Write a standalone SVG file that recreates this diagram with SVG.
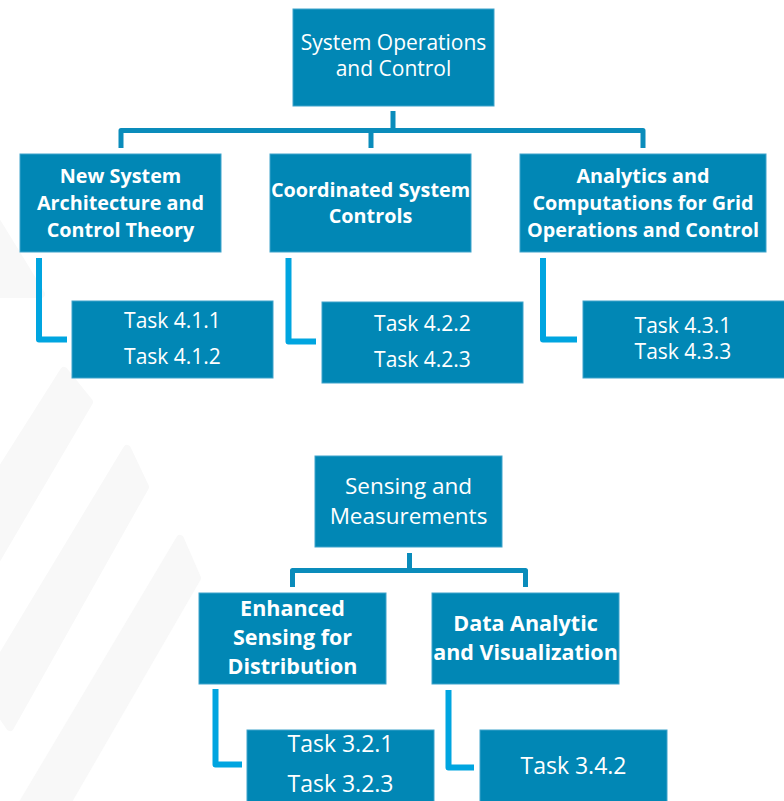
<svg xmlns="http://www.w3.org/2000/svg" width="784" height="801" viewBox="0 0 784 801">
<style>
.bg{fill:#f8f8f8;stroke:#f8f8f8;stroke-width:8;stroke-linejoin:round}
.box{fill:#0187b5;stroke:#3fa3cb;stroke-width:1}
.t{font-family:"Open Sans","Noto Sans",sans-serif;fill:#ffffff;text-anchor:middle}
.r21{font-size:21px}
.r23{font-size:23px}
.r22{font-size:22.5px}
.b20{font-size:19.8px;font-weight:700}
.b21{font-size:21.5px;font-weight:700}
.main{fill:none;stroke:#0a8cbb;stroke-width:5;stroke-linejoin:round}
.sub{fill:none;stroke:#00a5e0;stroke-width:6;stroke-linejoin:round}
</style>
<rect width="784" height="801" fill="#ffffff"/>
<g id="background">
<polygon class="bg" points="-5,219 41,294 -5,294"/>
<polygon class="bg" points="64,371 89,402 -5,562 -5,480"/>
<polygon class="bg" points="127,449 145,487 10,727 -5,705 -5,668"/>
<polygon class="bg" points="180,539 197,578 64,808 20,808"/>
</g>
<g id="connectors">
<path class="main" d="M121,148 V130.5 H643 V148"/>
<path class="main" d="M393,111 V130.5"/>
<path class="main" d="M371,130.5 V148"/>
<path class="main" d="M292.5,587 V570.5 H525.5 V587"/>
<path class="main" d="M409.5,553 V570.5"/>
<path class="sub" d="M39,258 V339.5 H67"/>
<path class="sub" d="M288.5,258 V341.5 H316"/>
<path class="sub" d="M543,258 V339.5 H577"/>
<path class="sub" d="M215.5,689 V764.5 H242"/>
<path class="sub" d="M448.5,690 V767.5 H474"/>
</g>
<g id="root1">
<rect class="box" x="293" y="9" width="201" height="97"/>
<text class="t r21" x="393.5" y="50">System Operations</text>
<text class="t r21" x="393.5" y="76">and Control</text>
</g>
<g id="c1">
<rect class="box" x="20" y="154" width="201" height="98"/>
<text class="t b20" x="120.5" y="183">New System</text>
<text class="t b20" x="120.5" y="210">Architecture and</text>
<text class="t b20" x="120.5" y="237">Control Theory</text>
</g>
<g id="c2">
<rect class="box" x="270" y="154" width="201" height="98"/>
<text class="t b20" x="370.5" y="197">Coordinated System</text>
<text class="t b20" x="370.5" y="223">Controls</text>
</g>
<g id="c3">
<rect class="box" x="520" y="154" width="246" height="98"/>
<text class="t b20" x="643" y="183">Analytics and</text>
<text class="t b20" x="643" y="210">Computations for Grid</text>
<text class="t b20" x="643" y="237">Operations and Control</text>
</g>
<g id="t1">
<rect class="box" x="72" y="301" width="201" height="77"/>
<text class="t r21" x="172.5" y="328">Task 4.1.1</text>
<text class="t r21" x="172.5" y="364">Task 4.1.2</text>
</g>
<g id="t2">
<rect class="box" x="322" y="302" width="201" height="81"/>
<text class="t r21" x="422.5" y="331">Task 4.2.2</text>
<text class="t r21" x="422.5" y="367">Task 4.2.3</text>
</g>
<g id="t3">
<rect class="box" x="583" y="301" width="203" height="77"/>
<text class="t r21" x="683" y="333">Task 4.3.1</text>
<text class="t r21" x="683" y="359">Task 4.3.3</text>
</g>
<g id="root2">
<rect class="box" x="315" y="456" width="187" height="91"/>
<text class="t r22" x="408.5" y="494">Sensing and</text>
<text class="t r22" x="408.5" y="524">Measurements</text>
</g>
<g id="c4">
<rect class="box" x="199" y="593" width="187" height="91"/>
<text class="t b21" x="292.5" y="616">Enhanced</text>
<text class="t b21" x="292.5" y="645">Sensing for</text>
<text class="t b21" x="292.5" y="674">Distribution</text>
</g>
<g id="c5">
<rect class="box" x="432" y="593" width="187" height="91"/>
<text class="t b21" x="525.5" y="631">Data Analytic</text>
<text class="t b21" x="525.5" y="660">and Visualization</text>
</g>
<g id="t4">
<rect class="box" x="247" y="730" width="187" height="75"/>
<text class="t r23" x="340.5" y="752">Task 3.2.1</text>
<text class="t r23" x="340.5" y="792">Task 3.2.3</text>
</g>
<g id="t5">
<rect class="box" x="480" y="730" width="187" height="75"/>
<text class="t r23" x="573.5" y="774">Task 3.4.2</text>
</g>
</svg>
